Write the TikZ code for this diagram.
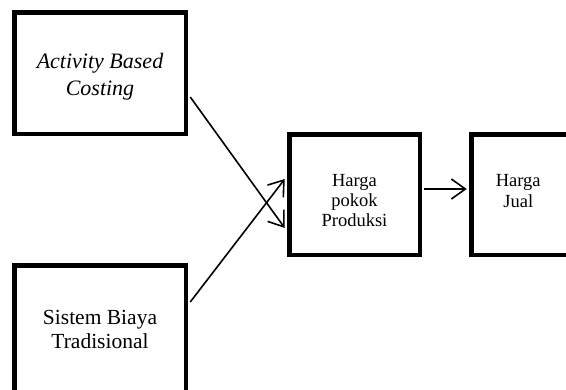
\documentclass[tikz,border=0pt]{standalone}
\usepackage{fontspec}
\setmainfont{Liberation Serif}
\usetikzlibrary{arrows.meta}

\tikzset{
  box/.style={draw, line width=4.5pt, inner sep=0pt},
  boxtext/.style={align=center, inner sep=0pt},
  link/.style={line width=1.6pt, -{Straight Barb[length=14pt,width=20pt,line width=1.6pt]}}
}

\begin{document}
\begin{tikzpicture}[x=1pt, y=1pt]
    % Picture size, two of the boxes run off the edge
    \useasboundingbox (0,0) rectangle (566,-389);
    \clip (0,0) rectangle (566,-389);

    % Left boxes
    \node[box, minimum width=171.5pt, minimum height=121.5pt,
          label={[boxtext, yshift=-4pt, font=\fontsize{22}{27}\selectfont\itshape]center:Activity Based\\Costing}]
          (abc) at (100,-73) {};
    \node[box, minimum width=171.5pt, minimum height=140pt,
          label={[boxtext, yshift=6pt, font=\fontsize{21.5}{24}\selectfont]center:Sistem Biaya\\Tradisional}]
          (sbt) at (100,-335.25) {};

    % Right boxes
    \node[box, minimum width=130.5pt, minimum height=120.5pt,
          label={[boxtext, yshift=-6pt, font=\fontsize{18.5}{20}\selectfont]center:Harga\\pokok\\Produksi}]
          (hpp) at (354.5,-194.5) {};
    \node[box, minimum width=110pt, minimum height=120.5pt,
          label={[boxtext, xshift=-8pt, yshift=3pt, font=\fontsize{18.5}{21}\selectfont]center:Harga\\Jual}]
          (hj) at (526.25,-194.5) {};

    % Arrows
    \draw[link] ([xshift=2.25pt,yshift=-24pt]abc.east) -- ([xshift=-2.25pt,yshift=-33.5pt]hpp.west);
    \draw[link] ([xshift=2.25pt,yshift=33.25pt]sbt.east) -- ([xshift=-2.25pt,yshift=15.5pt]hpp.west);
    \draw[link] ([xshift=2.25pt,yshift=5.5pt]hpp.east) -- ([xshift=-2.25pt,yshift=5.5pt]hj.west);
\end{tikzpicture}
\end{document}
